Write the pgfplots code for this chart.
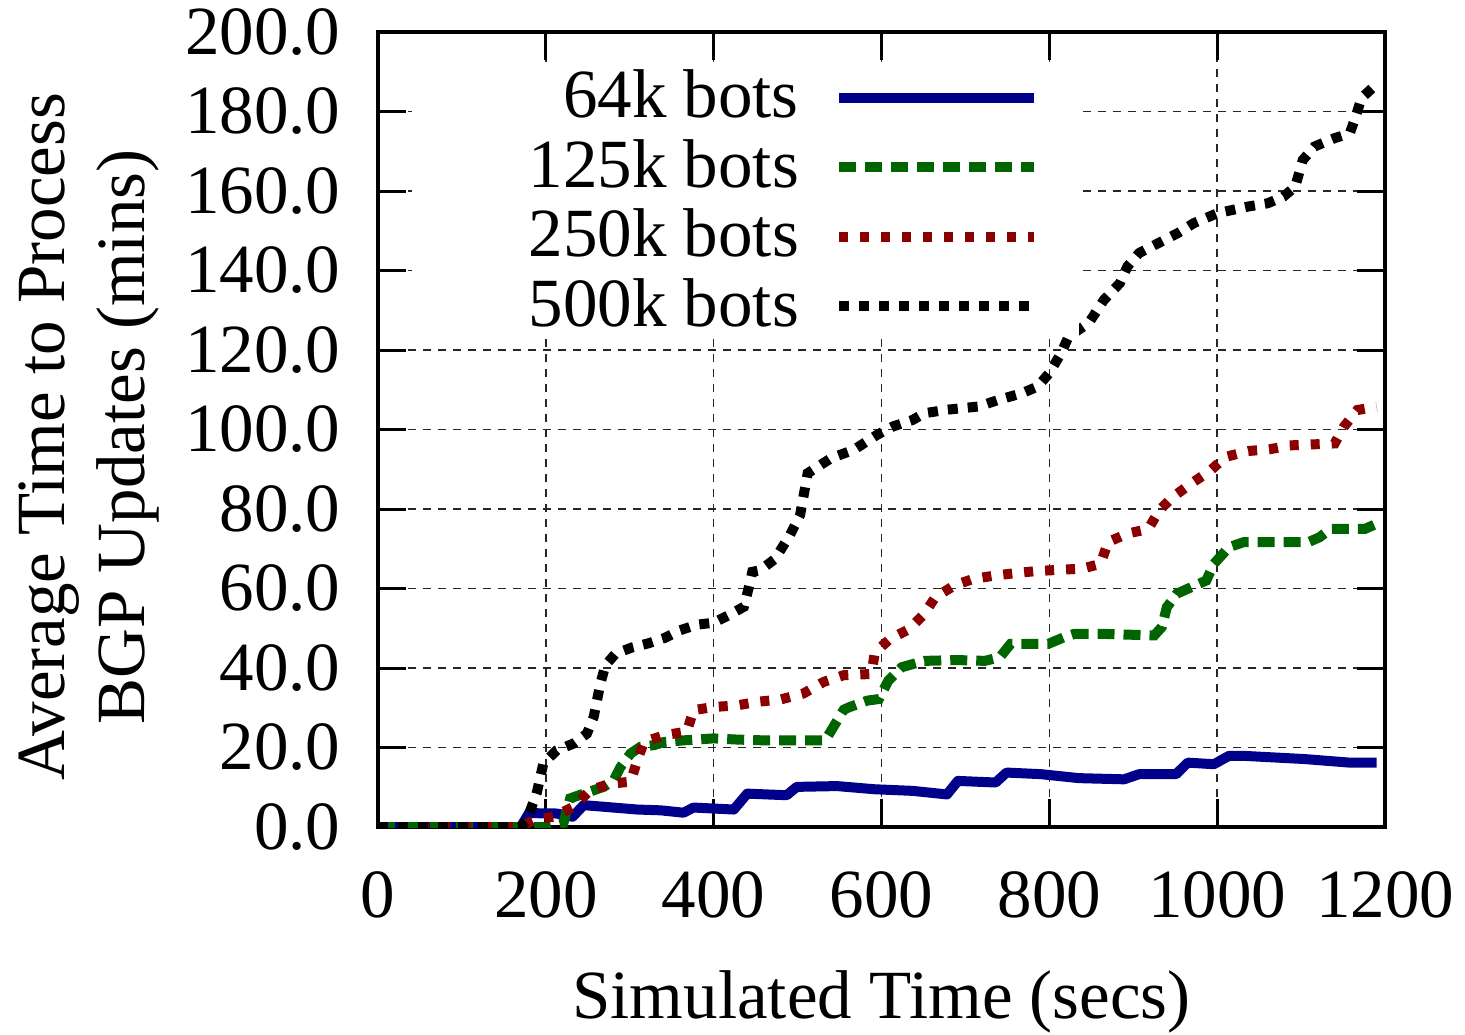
\documentclass[border=0pt]{standalone}
\usepackage{fontspec}
\setmainfont{Liberation Serif}
\usepackage{pgfplots}
\pgfplotsset{compat=1.18}
\newcommand\bigf{\fontsize{13.8pt}{16pt}\selectfont}
\definecolor{c64}{HTML}{00008B}
\definecolor{c125}{HTML}{006400}
\definecolor{c250}{HTML}{8B0000}
\begin{document}
\begin{tikzpicture}
\begin{axis}[
  name=ax,
  scale only axis, width=201.4pt, height=159pt,
  xmin=0, xmax=1200, ymin=0, ymax=200,
  xtick={0,200,...,1200}, ytick={0,20,...,200},
  tick align=inside, major tick length=5.6pt,
  tick style={line width=0.6pt, black},
  axis line style={line width=0.8pt},
  grid=major,
  major grid style={dash pattern=on 1.6pt off 1.4pt, line width=0.3pt, black!85},
  /pgf/number format/assume math mode=true,
  xticklabel style={font=\bigf, yshift=-5.3pt, /pgf/number format/1000 sep={}},
  yticklabel style={font=\bigf, xshift=-4pt, /pgf/number format/fixed, /pgf/number format/fixed zerofill, /pgf/number format/precision=1},
  xlabel={Simulated Time (secs)},
  xlabel style={font=\bigf, at={(rel axis cs:0.5,-0.2201)}, anchor=center},
  ylabel={Average Time to Process\\BGP Updates (mins)},
  ylabel style={font=\bigf, align=center, at={(rel axis cs:-0.287,0.4906)}, anchor=center, rotate=0},
  legend style={draw=none, fill=white, font=\bigf, at={(rel axis cs:0.697,0.9635)}, anchor=north east,
    inner xsep=8pt, inner ysep=1.6pt, row sep=3.9pt, column sep=7pt,
    nodes={inner sep=0pt, text height=9.5pt, text depth=0.5pt}},
  legend cell align=right, legend plot pos=right,
  legend image code/.code={\draw[#1] (0pt,-0.5pt) -- (39pt,-0.5pt);},
]
\addplot[c64, line width=2pt, line join=round] coordinates {
(0,0) (170,0) (180,3.5) (213,3.4) (232,2.6) (245,5.5) (269,5.1) (309,4.4) (337,4.2) (364,3.6) (376,4.9) (424,4.4) (440,8.4) (487,8.0) (499,10.1) (547,10.3) (592,9.5) (637,9.1) (678,8.2) (691,11.6) (736,11.2) (749,13.7) (790,13.3) (835,12.3) (889,12.0) (907,13.3) (951,13.3) (965,16.2) (996,15.8) (1014,17.9) (1032,17.9) (1104,17.1) (1158,16.2) (1190,16.2)
};
\addlegendentry{\makebox[69.4pt][r]{64k bots}}
\addplot[c125, line width=2pt, dash pattern=on 3.4pt off 1.8pt] coordinates {
(0,0) (200,0) (221,1) (229,7.2) (245,8.4) (269,10.1) (281,11.8) (289,15.1) (301,18.5) (313,20.2) (329,20.6) (341,21.4) (364,21.8) (400,22.3) (428,22) (460,21.8) (487,21.8) (533,21.8) (545,26) (555,29.5) (561,30.1) (583,31.8) (597,32.2) (608,36.8) (624,40.2) (651,41.8) (691,42) (723,41.8) (741,42.7) (754,46.1) (799,46.1) (817,47.7) (830,48.6) (862,48.6) (925,48.2) (934,50.3) (940,55.3) (952,58.7) (974,60.8) (987,62) (996,66.2) (1014,70.4) (1032,71.7) (1109,71.7) (1122,72.9) (1135,75) (1176,75) (1190,76.3)
};
\addlegendentry{\makebox[69.4pt][r]{125k bots}}
\addplot[c250, line width=2pt, dash pattern=on 1.8pt off 2.4pt] coordinates {
(0,0) (170,0) (185,1.7) (209,2.6) (233,5.1) (253,9.3) (277,10.9) (301,11.4) (309,16.8) (317,21.4) (341,23.1) (368,24) (376,29.4) (400,30.2) (428,30.6) (452,31.5) (480,32.1) (507,33.6) (531,36.5) (555,38.2) (588,38.5) (592,43.9) (610,47.3) (633,49.8) (651,53.6) (664,57.8) (687,60.8) (709,62.4) (736,63.3) (761,63.9) (785,64.4) (812,64.7) (839,65) (861,66.2) (870,71.7) (893,73.8) (918,75) (931,79.7) (947,83) (969,86.4) (992,89.7) (1010,93.1) (1037,94.6) (1062,95) (1086,96) (1140,96.5) (1151,100.7) (1167,104.9) (1190,105.7)
};
\addlegendentry{\makebox[69.4pt][r]{250k bots}}
\addplot[black, line width=2pt, dash pattern=on 2pt off 2pt] coordinates {
(0,0) (170,0) (177,1.7) (189,8.4) (197,16) (213,19.3) (233,21) (249,23.5) (257,27.7) (261,31.9) (265,36.1) (271,40.7) (283,43.6) (303,45.2) (322,46.2) (342,47.6) (360,49.5) (380,50.9) (400,51.4) (418,53.3) (436,55.4) (442,60.4) (446,64.2) (455,64.6) (473,67.4) (491,73.5) (503,78.5) (512,89) (540,92.8) (567,94.9) (595,98.7) (614,100.8) (637,102.4) (651,104.1) (679,105) (716,105.8) (740,107.5) (767,109.1) (786,110.8) (800,114.2) (814,119.2) (823,123.4) (847,126.8) (865,132.6) (884,136.8) (893,141) (907,144.4) (930,146.9) (953,149.4) (972,151.9) (1000,154.4) (1037,156.1) (1060,156.9) (1079,158.6) (1093,161.1) (1102,167.8) (1116,171.2) (1140,173.3) (1158,174.5) (1165,178.7) (1172,183.4) (1188,186.5)
};
\addlegendentry{\makebox[69.4pt][r]{500k bots}}
\end{axis}
\pgfresetboundingbox
\path ([xshift=-75.6pt,yshift=-41.4pt]ax.south west) rectangle ([xshift=16pt,yshift=6.4pt]ax.north east);
\end{tikzpicture}
\end{document}
